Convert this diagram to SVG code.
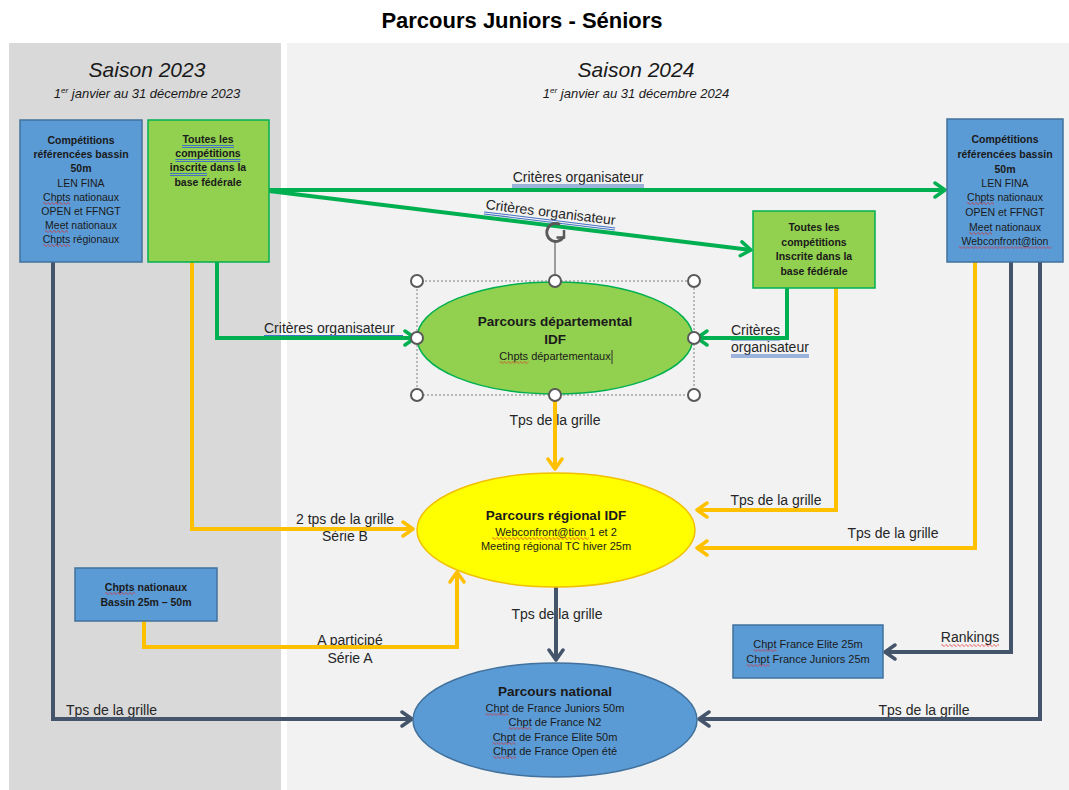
<svg xmlns="http://www.w3.org/2000/svg" width="1069" height="790" viewBox="0 0 1069 790">
<defs>
<style>
text{font-family:"Liberation Sans",Arial,sans-serif;fill:#1a1a1a}
.title{font-size:22px;font-weight:bold;fill:#000}
.season{font-size:21px;font-style:italic}
.sub{font-size:13px;font-style:italic}
.bx{font-size:10.5px;text-anchor:middle}
.b{font-weight:bold}
.lbl{font-size:14px;fill:#262626}
.mid{text-anchor:middle}
.eh{font-size:13.5px;font-weight:bold;text-anchor:middle}
.et{font-size:11px;text-anchor:middle}
.bluebox{fill:#5b9bd5;stroke:#41719c;stroke-width:1.5}
.greenbox{fill:#92d050;stroke:#00b050;stroke-width:1.5}
.cg{fill:none;stroke:#00b050;stroke-width:4}
.cy{fill:none;stroke:#ffc000;stroke-width:4}
.cd{fill:none;stroke:#44546a;stroke-width:4}
.h{fill:#fff;stroke:#595959;stroke-width:2}
.ul{stroke:#4472c4;stroke-width:1;fill:none}
.wv{fill:url(#wv)}
</style>
<pattern id="wv" width="4" height="3" patternUnits="userSpaceOnUse"><path d="M0,1.5 L1,0.5 L3,2.5 L4,1.5" fill="none" stroke="#e02020" stroke-width="0.8"/></pattern>
<marker id="ag" viewBox="0 0 14 18" refX="12" refY="9" markerWidth="14" markerHeight="18" markerUnits="userSpaceOnUse" orient="auto"><path d="M2,2 L12,9 L2,16" fill="none" stroke="#00b050" stroke-width="3.5" stroke-linecap="round" stroke-linejoin="round"/></marker>
<marker id="ay" viewBox="0 0 14 18" refX="12" refY="9" markerWidth="14" markerHeight="18" markerUnits="userSpaceOnUse" orient="auto"><path d="M2,2 L12,9 L2,16" fill="none" stroke="#ffc000" stroke-width="3.5" stroke-linecap="round" stroke-linejoin="round"/></marker>
<marker id="ad" viewBox="0 0 14 18" refX="12" refY="9" markerWidth="14" markerHeight="18" markerUnits="userSpaceOnUse" orient="auto"><path d="M2,2 L12,9 L2,16" fill="none" stroke="#44546a" stroke-width="3.5" stroke-linecap="round" stroke-linejoin="round"/></marker>
</defs>
<rect x="0" y="0" width="1069" height="790" fill="#fff"/>
<rect x="9" y="43" width="272" height="747" fill="#d9d9d9"/>
<rect x="287" y="43" width="782" height="747" fill="#f2f2f2"/>
<text class="title mid" x="522" y="28">Parcours Juniors - Séniors</text>
<text class="season mid" x="147" y="77">Saison 2023</text>
<text class="sub mid" x="147" y="98">1<tspan dy="-5" font-size="8">er</tspan><tspan dy="5"> janvier au 31 décembre 2023</tspan></text>
<text class="season mid" x="636" y="77">Saison 2024</text>
<text class="sub mid" x="636" y="98" font-size="12">1<tspan dy="-5" font-size="8">er</tspan><tspan dy="5"> janvier au 31 décembre 2024</tspan></text>

<g id="connector-labels">
<text class="lbl mid" x="578" y="182">Critères organisateur</text>
<path class="ul" d="M512,185 H644 M512,187 H644"/>
<g transform="translate(550,217) rotate(7)">
<text class="lbl mid" x="0" y="0">Critères organisateur</text>
<path class="ul" d="M-66,3 H66 M-66,5 H66"/>
</g>
<text class="lbl" x="264" y="333">Critères organisateur</text>
<path class="ul" d="M264,335.5 H403 M264,337.5 H403"/>
<text class="lbl" x="731" y="335">Critères</text>
<path class="ul" d="M731,338 H780 M731,340 H780"/>
<text class="lbl" x="731" y="352">organisateur</text>
<path class="ul" d="M731,355 H809 M731,357 H809"/>
<text class="lbl mid" x="555" y="425">Tps de la grille</text>
<text class="lbl mid" x="345" y="524">2 tps de la grille</text>
<text class="lbl mid" x="345" y="541">Série B</text>
<text class="lbl mid" x="776" y="505">Tps de la grille</text>
<text class="lbl mid" x="893" y="538">Tps de la grille</text>
<text class="lbl mid" x="350" y="645">A participé</text>
<text class="lbl mid" x="350" y="663">Série A</text>
<text class="lbl mid" x="557" y="619">Tps de la grille</text>
<text class="lbl" x="66" y="715">Tps de la grille</text>
<text class="lbl mid" x="924" y="715">Tps de la grille</text>
<text class="lbl mid" x="970" y="642">Rankings</text>
<rect class="wv" width="58" height="3" transform="translate(941,644)"/>
</g>

<g id="connectors">
<path class="cg" d="M269,190 H945" marker-end="url(#ag)"/>
<path class="cg" d="M269,191 L751,250" marker-end="url(#ag)"/>
<path class="cg" d="M217,262 V338 H415" marker-end="url(#ag)"/>
<path class="cg" d="M787,288 V338 H697" marker-end="url(#ag)"/>
<path class="cy" d="M192,262 V529 H413" marker-end="url(#ay)"/>
<path class="cy" d="M555,395 V469" marker-end="url(#ay)"/>
<path class="cy" d="M836,288 V510 H697" marker-end="url(#ay)"/>
<path class="cy" d="M975,262 V548 H697" marker-end="url(#ay)"/>
<path class="cy" d="M144,621 V647 H457 V572" marker-end="url(#ay)"/>
<path class="cd" d="M556,587 V660" marker-end="url(#ad)"/>
<path class="cd" d="M53,262 V719 H412" marker-end="url(#ad)"/>
<path class="cd" d="M1040,262 V719 H699" marker-end="url(#ad)"/>
<path class="cd" d="M1011,262 V652 H885" marker-end="url(#ad)"/>
</g>

<g id="comp-2023">
<rect class="bluebox" x="20" y="120" width="122" height="142"/>
<text class="bx b" x="81" y="144">Compétitions</text>
<text class="bx b" x="81" y="158">référencées bassin</text>
<text class="bx b" x="81" y="172">50m</text>
<text class="bx" x="81" y="187">LEN FINA</text>
<text class="bx" x="81" y="201">Chpts nationaux</text>
<text class="bx" x="81" y="215">OPEN et FFNGT</text>
<text class="bx" x="81" y="229">Meet nationaux</text>
<text class="bx" x="81" y="243">Chpts régionaux</text>
<rect class="wv" width="27" height="3" transform="translate(43,202)"/>
<rect class="wv" width="23" height="3" transform="translate(45,230)"/>
<rect class="wv" width="27" height="3" transform="translate(43,244)"/>
</g>

<g id="toutes-2023">
<rect class="greenbox" x="148" y="120" width="121" height="142"/>
<text class="bx b" x="208" y="143">Toutes les</text>
<text class="bx b" x="208" y="157">compétitions</text>
<text class="bx b" x="208" y="171">inscrite dans  la</text>
<text class="bx b" x="208" y="186">base fédérale</text>
<path class="ul" d="M182,145.5 H234 M182,147.5 H234 M175.5,159.5 H240.5 M175.5,161.5 H240.5 M170,173.5 H207 M170,175.5 H207"/>
</g>

<g id="comp-2024">
<rect class="bluebox" x="947" y="119" width="116" height="143"/>
<text class="bx b" x="1005" y="143">Compétitions</text>
<text class="bx b" x="1005" y="158">référencées bassin</text>
<text class="bx b" x="1005" y="173">50m</text>
<text class="bx" x="1005" y="187">LEN FINA</text>
<text class="bx" x="1005" y="201">Chpts nationaux</text>
<text class="bx" x="1005" y="216">OPEN et FFNGT</text>
<text class="bx" x="1005" y="231">Meet nationaux</text>
<text class="bx" x="1005" y="245">Webconfront@tion</text>
<rect class="wv" width="27" height="3" transform="translate(967,202)"/>
<rect class="wv" width="23" height="3" transform="translate(969,232)"/>
<rect class="wv" width="93" height="3" transform="translate(958.5,246)"/>
</g>

<g id="toutes-2024">
<rect class="greenbox" x="753" y="211" width="122" height="77"/>
<text class="bx b" x="814" y="231">Toutes les</text>
<text class="bx b" x="814" y="246">compétitions</text>
<text class="bx b" x="814" y="260">Inscrite dans la</text>
<text class="bx b" x="814" y="275">base fédérale</text>
</g>

<g id="parcours-departemental">
<ellipse cx="555" cy="338" rx="138" ry="56" fill="#92d050" stroke="#00b050" stroke-width="1.5"/>
<text class="eh" x="555" y="326">Parcours départemental</text>
<text class="eh" x="555" y="344">IDF</text>
<text class="et" x="555" y="360">Chpts départementaux</text>
<rect class="wv" width="29" height="3" transform="translate(499.5,361)"/>
<line x1="612" y1="350" x2="612" y2="364" stroke="#333" stroke-width="1"/>
<rect x="417" y="281" width="277" height="114" fill="none" stroke="#7f7f7f" stroke-width="1" stroke-dasharray="2,2"/>
<line x1="555" y1="242" x2="555" y2="281" stroke="#7f7f7f" stroke-width="1.5"/>
<path d="M560,224.5 A9,9 0 1 0 563.5,237" fill="none" stroke="#595959" stroke-width="3"/>
<path d="M556.5,237.5 L564,237.5 L564,230" fill="none" stroke="#595959" stroke-width="2.5"/>
<circle class="h" cx="417" cy="281" r="6"/>
<circle class="h" cx="555" cy="281" r="6"/>
<circle class="h" cx="694" cy="281" r="6"/>
<circle class="h" cx="417" cy="338" r="6"/>
<circle class="h" cx="694" cy="338" r="6"/>
<circle class="h" cx="417" cy="395" r="6"/>
<circle class="h" cx="555" cy="395" r="6"/>
<circle class="h" cx="694" cy="395" r="6"/>
</g>

<g id="parcours-regional">
<ellipse cx="556" cy="530" rx="139" ry="57" fill="#ffff00" stroke="#f0c000" stroke-width="1.5"/>
<text class="eh" x="556" y="520">Parcours régional IDF</text>
<text class="et" x="556" y="536">Webconfront@tion 1 et 2</text>
<text class="et" x="556" y="550">Meeting régional TC hiver 25m</text>
<rect class="wv" width="97" height="3" transform="translate(492,537)"/>
</g>

<g id="parcours-national">
<ellipse cx="555" cy="720" rx="142" ry="57" fill="#5b9bd5" stroke="#41719c" stroke-width="1.5"/>
<text class="eh" x="555" y="696">Parcours national</text>
<text class="et" x="555" y="712">Chpt de France Juniors 50m</text>
<text class="et" x="555" y="726">Chpt de France N2</text>
<text class="et" x="555" y="741">Chpt de France Elite 50m</text>
<text class="et" x="555" y="755">Chpt de France Open été</text>
<rect class="wv" width="23" height="3" transform="translate(485.5,713)"/>
<rect class="wv" width="23" height="3" transform="translate(508.5,727)"/>
<rect class="wv" width="23" height="3" transform="translate(492.5,742)"/>
<rect class="wv" width="23" height="3" transform="translate(493,756)"/>
</g>

<g id="chpts-nationaux">
<rect class="bluebox" x="75" y="568" width="142" height="53"/>
<text class="bx b" x="146" y="591">Chpts nationaux</text>
<text class="bx b" x="146" y="606">Bassin 25m – 50m</text>
<rect class="wv" width="30" height="3" transform="translate(105,592)"/>
</g>

<g id="chpt-france-25m">
<rect class="bluebox" x="733" y="625" width="150" height="53"/>
<text class="et" x="808" y="648">Chpt France Elite 25m</text>
<text class="et" x="808" y="663">Chpt France Juniors 25m</text>
<rect class="wv" width="23" height="3" transform="translate(753.5,649)"/>
<rect class="wv" width="23" height="3" transform="translate(746.5,664)"/>
</g>
</svg>
